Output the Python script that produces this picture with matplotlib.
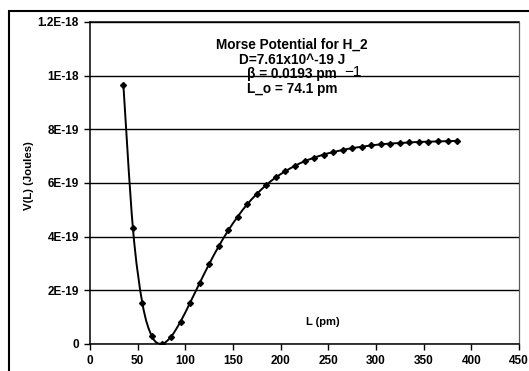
import numpy as np
import matplotlib
matplotlib.use('Agg')
import matplotlib.pyplot as plt
from matplotlib.path import Path
from matplotlib.patches import PathPatch, Rectangle

plt.rcParams['font.family'] = ['Liberation Sans', 'DejaVu Sans']
plt.rcParams['font.weight'] = 'bold'

# bond length L (pm) and Morse potential V(L) (J)
L_pm = [35, 45, 55, 65, 75, 85, 95, 105, 115, 125, 135, 145, 155, 165, 175,
        185, 195, 205, 215, 225, 235, 245, 255, 265, 275, 285, 295, 305, 315,
        325, 335, 345, 355, 365, 375, 385]
V_J = [9.66e-19, 4.32e-19, 1.51e-19, 2.81e-20, 2.3e-22, 2.74e-20, 8.38e-20,
       1.54e-19, 2.27e-19, 2.98e-19, 3.64e-19, 4.23e-19, 4.75e-19, 5.21e-19,
       5.59e-19, 5.93e-19, 6.21e-19, 6.44e-19, 6.64e-19, 6.81e-19, 6.94e-19,
       7.06e-19, 7.15e-19, 7.23e-19, 7.30e-19, 7.35e-19, 7.40e-19, 7.44e-19,
       7.47e-19, 7.49e-19, 7.51e-19, 7.53e-19, 7.54e-19, 7.55e-19, 7.56e-19,
       7.57e-19]

x_ticks = [0, 50, 100, 150, 200, 250, 300, 350, 400, 450]
y_ticks = [0, 2e-19, 4e-19, 6e-19, 8e-19, 1e-18, 1.2e-18]
y_tick_labels = ['0', '2E-19', '4E-19', '6E-19', '8E-19', '1E-18', '1.2E-18']

title_lines = ['Morse Potential for H_2', 'D=7.61x10^-19 J',
               'β = 0.0193 pm', 'L_o = 74.1 pm']

W, H = 529, 371
fig = plt.figure(figsize=(W / 100, H / 100), dpi=100)
ax = fig.add_axes([90 / W, 1 - 344 / H, (519 - 90) / W, (344 - 22) / H])

# smoothed line like the spreadsheet's (Catmull-Rom through the points)
x = np.array(L_pm, dtype=float)
y = np.array(V_J)
verts = [(x[0], y[0])]
codes = [Path.MOVETO]
n = len(x)
for i in range(n - 1):
    i0, i3 = max(i - 1, 0), min(i + 2, n - 1)
    c1 = (x[i] + (x[i + 1] - x[i0]) / 6, y[i] + (y[i + 1] - y[i0]) / 6)
    c2 = (x[i + 1] - (x[i3] - x[i]) / 6, y[i + 1] - (y[i3] - y[i]) / 6)
    verts += [c1, c2, (x[i + 1], y[i + 1])]
    codes += [Path.CURVE4] * 3
ax.add_patch(PathPatch(Path(verts, codes), fill=False, lw=1.4,
                       edgecolor='black', zorder=3))
ax.plot(L_pm, V_J, linestyle='none', marker='D', markersize=3,
        color='black', zorder=4)

ax.set_xlim(0, 450)
ax.set_ylim(0, 1.2e-18)
ax.set_xticks(x_ticks)
ax.set_xticklabels([str(t) for t in x_ticks])
ax.set_yticks(y_ticks)
ax.set_yticklabels(y_tick_labels)
ax.tick_params(axis='both', labelsize=8.5, length=4, width=1, direction='out',
               pad=4, colors='black')
ax.grid(axis='y', color='black', lw=1)
ax.set_axisbelow(True)
for s in ['left', 'bottom', 'top']:
    ax.spines[s].set_linewidth(1.1)
ax.spines['right'].set_color('0.35')
ax.spines['right'].set_linestyle((0, (1, 1)))
ax.spines['right'].set_linewidth(0.9)

fig.text(29 / W, 1 - 176 / H, 'V(L) (Joules)', rotation=90, fontsize=8.2,
         fontweight='bold', ha='center', va='center')

cx = 292 / W
for k, line in enumerate(title_lines):
    fig.text(cx, 1 - (45 + 14.5 * k) / H, line, fontsize=9.8,
             fontweight='bold', ha='center', va='center')
# hand-written "-1" exponent after "pm"
fig.text(344 / W, 1 - 72 / H, '\u22121', fontsize=11, fontweight='normal',
         ha='left', va='center')

fig.text(323 / W, 1 - 322 / H, 'L (pm)', fontsize=8, fontweight='bold',
         ha='center', va='center')

# outer chart-area frame, running off the right and bottom edge
fig.patches.append(Rectangle((9 / W, -0.05), 1.1, 1 - 11 / H + 0.05,
                             transform=fig.transFigure, fill=False,
                             edgecolor='black', lw=1.5))

fig.savefig('out.png', dpi=100)
